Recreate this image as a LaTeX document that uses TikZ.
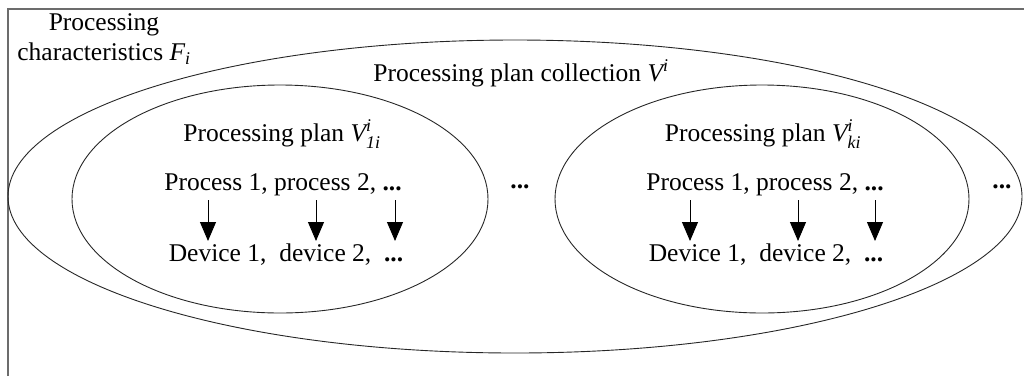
\documentclass[tikz,border=0pt]{standalone}
\usepackage{amsmath}
\usepackage{fontspec}
\setmainfont{Liberation Serif}
\usetikzlibrary{shapes.geometric,arrows.meta}

\newcommand{\plan}[1]{$\textit{V}^{\textit{i}}_{\textit{#1}}$}
\newcommand{\mydots}{\textbf{...}}

\begin{document}
\begin{tikzpicture}[x=1pt, y=-1pt]
\tikzset{ >={Triangle[length=19pt,width=16pt]}, inner sep=0pt, outer sep=0pt,
  txt/.style={font=\fontsize{25.5}{30}\selectfont, align=center},
  oval/.style={draw=black!85, line width=0.9pt, ellipse},
  map/.style={->, line width=0.9pt},
}

\useasboundingbox (0,0) rectangle (1024,376);

%\draw [lightgray, dashed](0,0) grid[step=50] (1024,376);

% frame
\draw [gray!85!black, line width=1.5pt] (8,376) -- (8,9) -- (1024,9);

\node [oval, minimum width=1014, minimum height=313] (Vall) at (515,196.5) {};
\node [oval, minimum width=416, minimum height=228] (V1) at (280,199) {};
\node [oval, minimum width=414, minimum height=228] (Vk) at (762,199) {};

\node [txt] (F)  at (104,39) {Processing\\characteristics $\textit{F}_{\textit{i}}$};
\node [txt] (VC) at (521,73) {Processing plan collection $\textit{V}^{\textit{i}}$};

\node [txt] (T1) at (282,134) {Processing plan \plan{1i}};
\node [txt] (P1) at (283,185) {Process 1, process 2, \mydots};
\node [txt] (D1) at (286,255) {Device 1,\enspace device 2,\enspace \mydots};

\node [txt] (Tk) at (763,134) {Processing plan \plan{ki}};
\node [txt] (Pk) at (765,185) {Process 1, process 2, \mydots};
\node [txt] (Dk) at (766,255) {Device 1,\enspace device 2,\enspace \mydots};

\node [txt] (dotsA) at (520,187) {\mydots};
\node [txt] (dotsB) at (1002,187) {\mydots};

% process -> device
\coordinate (a1) at (208,200);  \coordinate (b1) at (208,241);
\coordinate (a2) at (316,200);  \coordinate (b2) at (316,241);
\coordinate (a3) at (395,200);  \coordinate (b3) at (395,241);
\coordinate (c1) at (690,200);  \coordinate (d1) at (690,241);
\coordinate (c2) at (798,200);  \coordinate (d2) at (798,241);
\coordinate (c3) at (875,200);  \coordinate (d3) at (875,241);

\draw [map] (a1) -- (b1);
\draw [map] (a2) -- (b2);
\draw [map] (a3) -- (b3);
\draw [map] (c1) -- (d1);
\draw [map] (c2) -- (d2);
\draw [map] (c3) -- (d3);

\end{tikzpicture}
\end{document}
